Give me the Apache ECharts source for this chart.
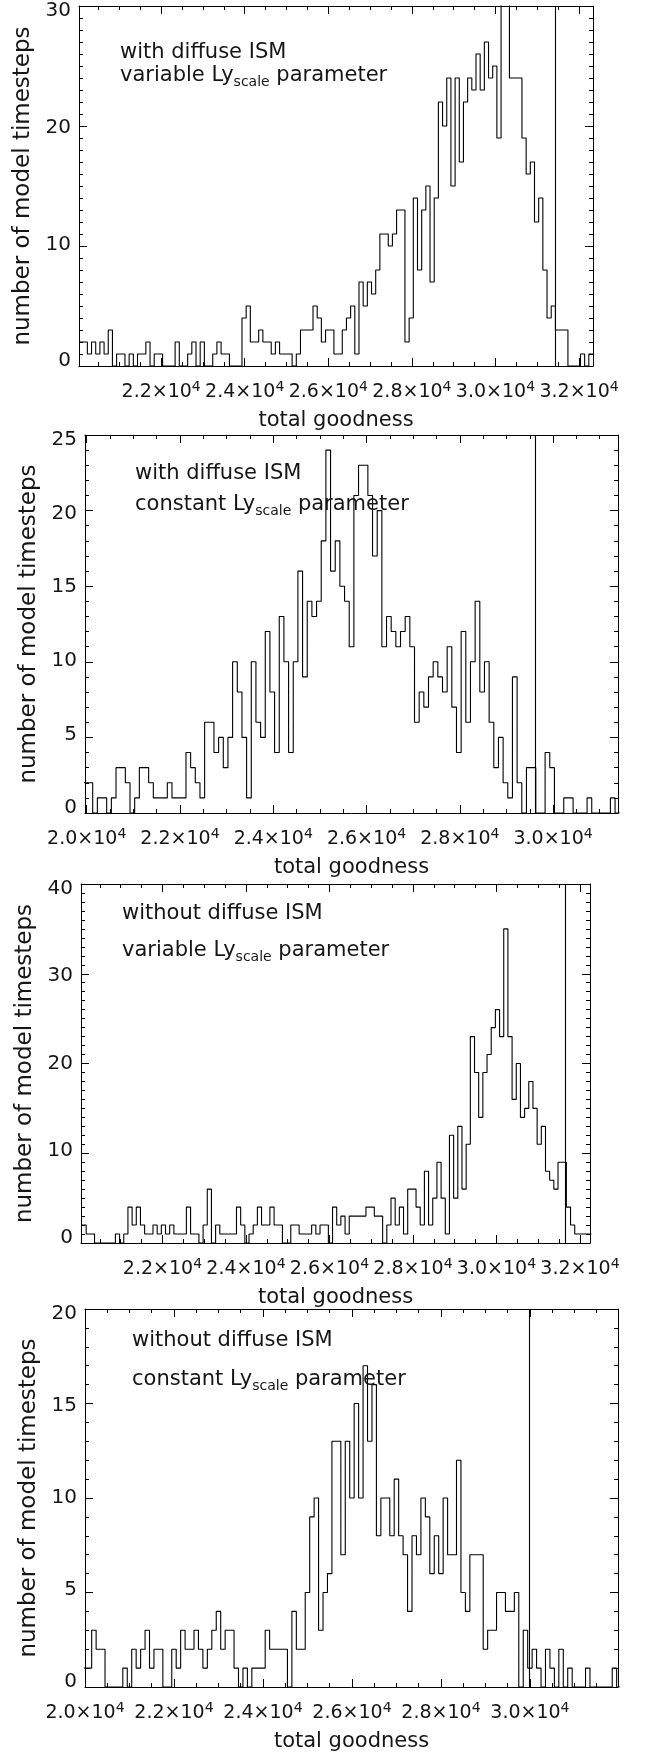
<!DOCTYPE html>
<html><head><meta charset="utf-8">
<script src="https://cdn.jsdelivr.net/npm/echarts@6/dist/echarts.min.js"></script>
<style>html,body{margin:0;padding:0;background:#fff}#c{width:649px;height:1753px}</style>
</head><body><div id="c"></div>
<script>
// ---------------- data ----------------
const binWidth = 100;
const xTickLabels = [20000, 22000, 24000, 26000, 28000, 30000, 32000];

// Panel 1: with diffuse ISM, variable Ly_scale
const p1Range = [20034, 32334];
const p1BinStart = 20034;
const p1Marker = 31430;
const p1Counts = [2,2,1,2,1,2,1,3,0,1, 1,0,1,0,1,1,2,0,1,1, 0,0,0,2,0,0,1,2,0,2,
  0,0,1,2,1,1,0,0,0,4, 5,2,2,3,2,2,1,2,1,1, 1,0,1,3,3,3,5,4,2,3,
  3,1,1,3,4,5,1,7,5,7, 6,8,11,11,10,11,13,13,2,4, 14,8,13,15,7,14,22,20,24,15,
  24,17,22,24,23,26,23,27,24,25, 19,33,33,24,24,24,19,16,17,12, 14,8,4,5,3,3,3,0,0,0,
  1,0,1];

// Panel 2: with diffuse ISM, constant Ly_scale
const p2Range = [19964, 31392];
const p2BinStart = 19929;
const p2Marker = 29614;
const p2Counts = [2,2,0,1,1,0,1,3,3,2, 0,1,3,3,2,1,1,1,2,1, 1,1,4,3,2,1,6,6,4,5,
  3,5,10,8,5,1,10,6,5,12, 8,4,13,10,4,10,16,9,14,13, 14,18,24,16,18,15,14,11,21,23,
  23,21,17,20,11,13,12,11,12,13, 11,6,8,7,9,10,9,8,11,7, 4,12,6,10,14,8,10,6,3,5,
  2,1,9,2,0,3,3,0,0,4, 3,0,0,1,1,0,0,0,1,0, 0,0,0,1,0];

// Panel 3: without diffuse ISM, variable Ly_scale
const p3Range = [20050, 32240];
const p3BinStart = 20074;
const p3Marker = 31646;
const p3Counts = [2,1,1,0,0,0,0,0,1,0, 1,4,2,4,2,1,1,2,1,2, 1,2,1,1,1,4,1,1,0,2,
  6,0,2,1,1,1,1,4,2,0, 1,2,4,2,2,4,2,2,0,0, 2,2,1,1,1,2,1,2,2,0,
  4,2,3,1,3,3,3,3,4,4, 3,3,0,2,5,2,4,1,6,6, 4,2,8,2,5,9,5,1,12,5,
  13,6,11,23,19,14,19,21,24,26, 23,35,23,16,20,14,15,18,15,11, 13,8,7,6,9,9,4,2,1,1,
  1,1];

// Panel 4: without diffuse ISM, constant Ly_scale
const p4Range = [20000, 31980];
const p4BinStart = 19950;
const p4Marker = 29975;
const p4Counts = [1,1,3,2,2,0,0,0,0,1, 0,2,1,2,3,1,2,2,0,0, 2,1,3,2,2,3,2,1,2,3,
  4,2,3,3,1,0,1,0,1,1, 1,3,2,2,2,2,0,4,2,2, 5,9,10,3,5,6,13,13,7,13,
  10,15,10,17,13,16,8,10,10,8, 11,8,7,4,8,7,10,9,6,8, 6,10,7,7,12,5,4,7,7,7,
  2,3,3,5,5,4,4,5,0,3, 1,2,1,0,2,1,0,2,0,1, 0,0,0,1,0,0,0,0,0,1, 0];

const yMaxes = [30, 25, 40, 20];
const yMajor = [10, 5, 10, 5];
const noteLine1 = ['with diffuse ISM', 'with diffuse ISM', 'without diffuse ISM', 'without diffuse ISM'];
const noteMode = ['variable', 'constant', 'variable', 'constant'];
const xName = 'total goodness';
const yName = 'number of model timesteps';

// ---------------- layout / style ----------------
const FONT = 'DejaVu Sans';
const INK = '#161616';
const layout = [
  {left: 79, top: 6,    width: 514, height: 360, yGap: 34, noteX: 120, noteY: [40, 63]},
  {left: 85, top: 435,  width: 533, height: 378, yGap: 40, noteX: 135, noteY: [461, 492]},
  {left: 81, top: 884,  width: 509, height: 359, yGap: 36, noteX: 122, noteY: [901, 938]},
  {left: 85, top: 1309, width: 533, height: 378, yGap: 40, noteX: 132, noteY: [1328, 1367]}
];
const labelShift = 5; // IDL-like: end labels drawn slightly inside the axis span

const panels = [
  {counts: p1Counts, start: p1BinStart, range: p1Range, marker: p1Marker},
  {counts: p2Counts, start: p2BinStart, range: p2Range, marker: p2Marker},
  {counts: p3Counts, start: p3BinStart, range: p3Range, marker: p3Marker},
  {counts: p4Counts, start: p4BinStart, range: p4Range, marker: p4Marker}
];

function fmtX(v) {
  if (Math.abs(v - Math.round(v)) > 1e-6 || xTickLabels.indexOf(Math.round(v)) < 0) return '';
  return '{m|' + (v / 10000).toFixed(1) + '×10}{e|4}';
}

const grids = [], xAxes = [], yAxes = [], series = [], titles = [];
const tickStyle = {color: '#000', width: 1};

panels.forEach((p, i) => {
  const L = layout[i];
  grids.push({left: L.left, top: L.top, width: L.width, height: L.height, containLabel: false, outerBoundsMode: 'none'});
  ['bottom', 'top'].forEach(pos => {
    xAxes.push({
      type: 'value', gridIndex: i, position: pos,
      min: p.range[0], max: p.range[1], minInterval: 2000, maxInterval: 2000,
      axisLine: {show: true, onZero: false, lineStyle: {color: '#000', width: 1}},
      axisTick: {show: true, inside: true, length: 8, lineStyle: tickStyle},
      minorTick: {show: true, splitNumber: 4, length: 4, lineStyle: tickStyle},
      splitLine: {show: false}, minorSplitLine: {show: false},
      axisLabel: pos === 'bottom' ? {
        show: true, margin: 14, formatter: fmtX,
        rich: {
          m: {fontFamily: FONT, fontSize: 19, color: INK, lineHeight: 24},
          e: {fontFamily: FONT, fontSize: 14, color: INK, lineHeight: 10, verticalAlign: 'top'}
        }
      } : {show: false},
      name: pos === 'bottom' ? xName : '',
      nameLocation: 'middle', nameGap: 44,
      nameTextStyle: {fontFamily: FONT, fontSize: 21, color: INK}
    });
  });
  // per-label rich styles: top label nudged down, bottom label nudged up
  const nSteps = yMaxes[i] / yMajor[i];
  const yRich = {};
  for (let k = 0; k <= nSteps; k++) {
    const d = (k - nSteps / 2) / (nSteps / 2) * labelShift;
    yRich['v' + k] = {fontFamily: FONT, fontSize: 20, color: INK,
      padding: d >= 0 ? [2 * d, 0, 0, 0] : [0, 0, -2 * d, 0]};
  }
  ['left', 'right'].forEach(pos => {
    yAxes.push({
      type: 'value', gridIndex: i, position: pos,
      min: 0, max: yMaxes[i], interval: yMajor[i],
      axisLine: {show: true, onZero: false, lineStyle: {color: '#000', width: 1}},
      axisTick: {show: true, inside: true, length: 8, lineStyle: tickStyle},
      minorTick: {show: true, splitNumber: yMajor[i], length: 4, lineStyle: tickStyle},
      splitLine: {show: false}, minorSplitLine: {show: false},
      axisLabel: pos === 'left' ? {
        show: true, margin: 8, fontFamily: FONT, fontSize: 20, color: INK,
        formatter: v => '{v' + Math.round(v / yMajor[i]) + '|' + v + '}', rich: yRich
      } : {show: false},
      name: pos === 'left' ? yName : '',
      nameLocation: 'middle', nameGap: L.yGap, nameRotate: 90,
      nameTextStyle: {fontFamily: FONT, fontSize: 23, color: INK}
    });
  });
  // histogram outline: one point at each bin's left edge, plus the last right edge
  const pts = p.counts.map((c, k) => [p.start + k * binWidth, c]);
  pts.push([p.start + p.counts.length * binWidth, p.counts[p.counts.length - 1]]);
  series.push({
    type: 'line', xAxisIndex: 2 * i, yAxisIndex: 2 * i,
    data: pts, step: 'end', symbol: 'none', showSymbol: false, clip: true,
    lineStyle: {color: '#000', width: 1.1}, animation: false, silent: true,
    markLine: {
      silent: true, symbol: ['none', 'none'], label: {show: false},
      lineStyle: {color: '#000', type: 'solid', width: 1.1},
      data: [{xAxis: p.marker}], animation: false
    }
  });
  const rich = {
    n: {fontFamily: FONT, fontSize: 21, fontWeight: 'normal', color: INK, lineHeight: 26},
    s: {fontFamily: FONT, fontSize: 14, fontWeight: 'normal', color: INK, lineHeight: 8, verticalAlign: 'bottom'}
  };
  titles.push({left: L.noteX, top: L.noteY[0], padding: 0, text: '{n|' + noteLine1[i] + '}', textStyle: {fontWeight: 'normal', rich}});
  titles.push({left: L.noteX, top: L.noteY[1], padding: 0, text: '{n|' + noteMode[i] + ' Ly}{s|scale}{n| parameter}', textStyle: {fontWeight: 'normal', rich}});
});

const chart = echarts.init(document.getElementById('c'), null, {renderer: 'canvas', width: 649, height: 1753, devicePixelRatio: 1});
chart.setOption({
  animation: false,
  backgroundColor: '#fff',
  title: titles,
  grid: grids,
  xAxis: xAxes,
  yAxis: yAxes,
  series: series
});
</script></body></html>
